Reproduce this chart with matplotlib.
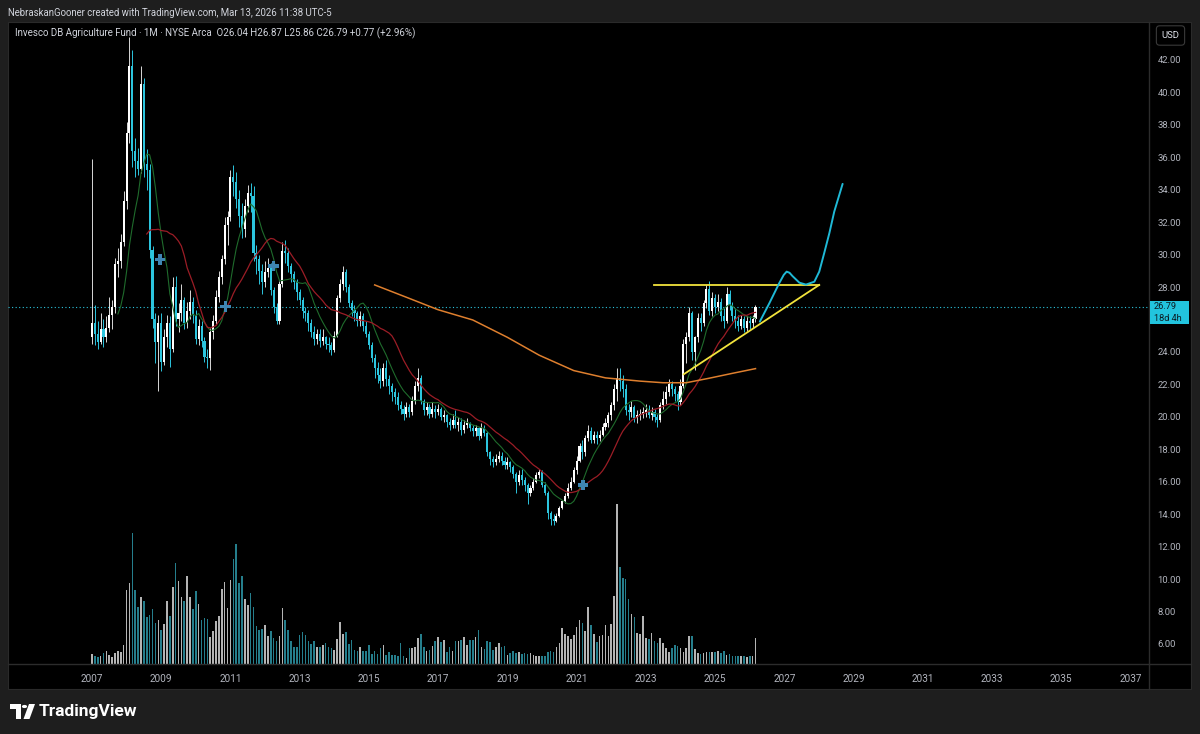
import numpy as np
import matplotlib
matplotlib.use("Agg")
import matplotlib.pyplot as plt
import matplotlib.transforms as mtransforms
from matplotlib.patches import Rectangle, Polygon, Circle
from matplotlib.lines import Line2D

matplotlib.rcParams["font.family"] = ["Roboto", "DejaVu Sans"]

# monthly candles, Jan 2007 .. Mar 2026 (one row per year)
first_open = 24.9
closes = [
    25.8, 25.1, 24.6, 25.4, 24.9, 25.5, 26.3, 26.8, 29.4, 29.6, 30.8, 33.3,   # 2007
    37.5, 41.6, 36.4, 35.8, 35.3, 40.5, 35.6, 35.2, 30.3, 26.0, 24.6, 25.8,   # 2008
    23.4, 24.9, 25.8, 24.2, 28.0, 26.0, 26.4, 27.2, 25.8, 26.5, 27.1, 26.3,   # 2009
    24.8, 25.6, 24.7, 23.7, 23.6, 25.2, 25.9, 27.4, 28.6, 29.7, 31.8, 32.3,   # 2010
    34.8, 34.5, 33.4, 32.4, 31.6, 33.0, 33.8, 33.6, 30.1, 29.7, 29.0, 28.3,   # 2011
    28.9, 29.2, 27.8, 26.8, 25.9, 28.2, 30.2, 30.1, 29.3, 28.8, 28.3, 27.7,   # 2012
    27.2, 26.5, 26.4, 25.8, 25.2, 24.8, 25.1, 24.7, 24.9, 24.5, 24.4, 24.1,   # 2013
    25.0, 27.3, 28.2, 28.9, 28.0, 27.0, 26.6, 26.4, 25.9, 26.2, 25.6, 25.1,   # 2014
    24.4, 23.6, 23.0, 22.6, 22.2, 23.0, 22.3, 21.9, 21.5, 21.2, 20.7, 20.5,   # 2015
    20.2, 20.6, 20.3, 21.0, 21.9, 22.4, 21.0, 20.4, 20.6, 20.2, 20.5, 20.3,   # 2016
    20.5, 20.0, 20.1, 19.7, 19.5, 19.8, 19.5, 19.7, 19.2, 19.5, 19.6, 19.3,   # 2017
    19.1, 19.3, 18.8, 19.3, 19.0, 17.8, 17.4, 17.2, 17.4, 17.6, 17.3, 17.0,   # 2018
    17.2, 16.9, 16.5, 16.0, 16.4, 16.1, 15.8, 15.3, 15.6, 16.0, 16.4, 16.6,   # 2019
    15.8, 15.3, 14.1, 13.7, 13.6, 13.9, 14.4, 14.8, 15.1, 15.6, 16.0, 16.7,   # 2020
    17.3, 18.2, 17.8, 18.7, 19.1, 18.6, 18.9, 18.7, 18.9, 19.4, 19.6, 20.1,   # 2021
    20.7, 21.7, 22.4, 22.2, 21.7, 20.4, 20.3, 20.6, 19.9, 20.1, 20.2, 20.3,   # 2022
    20.4, 20.1, 20.3, 20.0, 19.8, 20.7, 21.1, 21.5, 22.0, 21.7, 21.4, 20.9,   # 2023
    21.9, 24.5, 24.9, 26.4, 24.0, 24.9, 26.1, 25.8, 27.0, 27.9, 26.5, 27.3,   # 2024
    26.8, 27.1, 26.2, 25.9, 27.6, 26.9, 26.2, 25.9, 25.6, 26.0, 25.5, 25.9,   # 2025
    25.8, 26.04, 26.79,                                                       # 2026
]
highs = [
    35.9, 26.9, 25.9, 26.4, 26.0, 26.2, 27.4, 27.2, 29.8, 30.4, 31.3, 33.9,
    38.2, 43.4, 42.6, 37.2, 36.6, 41.6, 40.9, 36.5, 35.6, 30.5, 26.4, 26.3,
    26.4, 25.4, 26.3, 26.2, 28.6, 28.7, 27.0, 28.2, 27.4, 27.1, 27.8, 27.4,
    26.6, 26.0, 25.9, 24.9, 24.2, 25.5, 26.3, 27.8, 29.0, 30.0, 32.3, 32.7,
    35.2, 35.5, 35.1, 34.0, 33.2, 33.4, 34.3, 34.4, 34.2, 30.6, 30.0, 29.4,
    29.6, 29.8, 29.5, 28.0, 27.0, 28.4, 30.8, 30.9, 30.4, 29.5, 29.0, 28.5,
    27.9, 27.4, 26.8, 26.6, 26.0, 25.6, 25.4, 25.4, 25.4, 25.0, 24.9, 24.6,
    25.3, 27.5, 28.5, 29.3, 29.1, 28.2, 27.2, 26.9, 26.5, 26.5, 26.4, 25.9,
    25.3, 24.6, 23.9, 23.4, 23.0, 23.3, 23.5, 22.6, 22.1, 21.8, 21.5, 21.0,
    20.7, 20.9, 20.8, 21.3, 22.2, 23.0, 22.6, 21.1, 20.9, 20.8, 20.9, 20.7,
    20.8, 20.6, 20.4, 20.2, 19.9, 20.2, 20.4, 20.0, 19.9, 19.8, 19.9, 19.7,
    19.5, 19.5, 19.4, 19.6, 19.5, 19.1, 17.9, 17.6, 17.7, 17.9, 17.8, 17.5,
    17.5, 17.3, 17.0, 16.6, 16.7, 16.8, 16.3, 15.9, 15.8, 16.2, 16.6, 16.8,
    16.7, 16.0, 15.4, 14.2, 14.0, 14.1, 14.5, 14.9, 15.3, 15.9, 16.3, 16.9,
    17.6, 18.4, 18.6, 18.9, 19.5, 19.4, 19.1, 19.1, 19.2, 19.6, 19.9, 20.3,
    20.9, 22.0, 23.0, 23.0, 22.6, 22.0, 20.8, 21.0, 20.7, 20.4, 20.5, 20.6,
    20.8, 20.7, 20.6, 20.5, 20.2, 20.9, 21.6, 21.9, 22.3, 22.2, 21.9, 21.6,
    22.3, 24.8, 25.2, 26.8, 26.5, 25.0, 26.4, 26.4, 27.2, 28.1, 28.4, 27.7,
    27.6, 27.6, 27.3, 26.7, 28.0, 27.8, 27.1, 26.7, 26.3, 26.3, 26.2, 26.2,
    26.2, 26.3, 26.87,
]
lows = [
    24.5, 24.4, 24.2, 24.5, 24.3, 24.6, 25.2, 25.4, 26.4, 28.6, 29.2, 30.5,
    32.8, 36.9, 35.4, 34.8, 34.9, 35.0, 34.8, 34.0, 29.8, 25.5, 23.3, 21.6,
    22.8, 23.2, 24.3, 23.1, 24.0, 25.6, 25.2, 25.9, 25.4, 25.5, 26.0, 25.8,
    24.5, 24.4, 24.3, 23.4, 23.0, 22.9, 24.8, 25.7, 27.1, 28.2, 29.4, 30.6,
    32.1, 33.6, 32.9, 31.7, 31.0, 31.1, 32.6, 32.6, 29.6, 28.8, 28.2, 27.6,
    28.0, 28.6, 27.5, 26.4, 25.7, 25.7, 28.0, 29.5, 28.9, 28.3, 27.9, 27.2,
    26.9, 26.1, 25.9, 25.3, 24.9, 24.4, 24.5, 24.3, 24.4, 24.2, 24.0, 23.8,
    24.0, 24.9, 27.1, 27.8, 27.7, 26.8, 26.2, 25.9, 25.6, 25.6, 25.3, 24.9,
    24.2, 23.4, 22.4, 22.1, 21.8, 21.9, 21.9, 21.4, 21.0, 20.8, 20.4, 20.2,
    19.8, 20.0, 20.0, 20.1, 20.8, 21.6, 20.8, 20.1, 20.1, 19.9, 20.0, 19.9,
    20.1, 19.8, 19.7, 19.4, 19.2, 19.3, 19.3, 19.1, 18.9, 19.0, 19.3, 19.1,
    18.8, 18.8, 18.6, 18.7, 18.8, 17.6, 17.0, 16.9, 17.0, 17.2, 17.0, 16.8,
    16.8, 16.6, 16.2, 15.3, 15.8, 15.8, 15.4, 14.6, 15.1, 15.5, 15.9, 16.2,
    15.7, 15.2, 13.7, 13.3, 13.3, 13.5, 13.8, 14.3, 14.7, 15.0, 15.5, 15.9,
    16.5, 17.2, 17.4, 17.6, 18.5, 18.4, 18.4, 18.3, 18.5, 18.8, 19.2, 19.4,
    19.8, 20.4, 21.0, 21.6, 21.2, 20.1, 19.8, 20.0, 19.7, 19.6, 19.8, 19.9,
    20.0, 19.9, 19.8, 19.7, 19.4, 19.7, 20.5, 20.8, 21.3, 21.3, 21.0, 20.4,
    20.7, 21.8, 23.3, 24.7, 23.5, 22.9, 24.6, 25.3, 25.6, 26.7, 26.3, 26.2,
    26.4, 26.5, 25.9, 25.5, 25.8, 26.6, 25.9, 25.5, 25.3, 25.4, 25.2, 25.3,
    25.4, 25.5, 25.86,
]
volumes = [
    10, 8, 7, 8, 11, 13, 9, 7, 11, 13, 12, 19,
    74, 81, 131, 74, 57, 67, 63, 47, 49, 55, 41, 44,
    34, 40, 63, 48, 77, 101, 83, 67, 63, 88, 67, 55,
    73, 60, 44, 46, 45, 27, 33, 43, 48, 75, 82, 56,
    84, 105, 120, 81, 88, 65, 59, 71, 57, 38, 34, 35,
    39, 28, 33, 26, 23, 28, 56, 44, 34, 23, 17, 17,
    29, 32, 29, 23, 20, 23, 17, 17, 19, 21, 17, 16,
    14, 25, 42, 30, 32, 20, 24, 14, 13, 17, 13, 13,
    19, 10, 13, 10, 16, 19, 9, 12, 9, 9, 8, 21,
    8, 6, 16, 16, 17, 26, 30, 17, 13, 14, 18, 23,
    27, 22, 24, 12, 17, 13, 23, 23, 24, 27, 19, 24,
    24, 27, 34, 17, 15, 23, 22, 14, 17, 21, 17, 18,
    9, 11, 13, 11, 12, 10, 11, 10, 11, 9, 8, 8,
    8, 8, 12, 13, 12, 17, 21, 36, 30, 28, 25, 29,
    37, 44, 41, 33, 57, 39, 30, 22, 28, 29, 39, 28,
    40, 68, 160, 97, 86, 85, 65, 50, 47, 31, 30, 48,
    26, 25, 31, 23, 21, 26, 21, 16, 12, 16, 19, 18,
    16, 12, 16, 28, 28, 15, 11, 10, 11, 12, 12, 12,
    12, 13, 11, 13, 9, 10, 8, 8, 8, 8, 8, 7,
    8, 8, 26,
]

# long moving average as it reads off the chart (month index, price)
long_ma_months = [98, 110, 120, 132, 144, 155, 167, 178, 190, 198, 206, 214, 222, 230]
long_ma_prices = [28.13, 27.3, 26.6, 25.97, 24.9, 23.8, 22.85, 22.4, 22.2, 22.1, 22.1, 22.38, 22.68, 22.97]

# signal markers (month index from Jan 2007, price)
signal_months = [23.6, 46.3, 62.9, 170.2]
signal_prices = [29.7, 26.8, 29.3, 15.8]

# drawings: resistance, rising trendline, projected path
resistance_months = [194.9, 252.1]
resistance_prices = [28.13, 28.13]
trend_months = [205.1, 252.1]
trend_prices = [22.62, 28.13]
path_months = [231.5, 234.8, 238.2, 239.8, 240.8, 241.8, 242.8, 245.2, 247.5, 250.4, 252.1, 253.8, 255.6, 257.3, 260.2]
path_prices = [25.87, 27.0, 28.23, 28.75, 28.95, 28.88, 28.68, 28.27, 28.15, 28.33, 28.95, 30.08, 31.32, 32.65, 34.36]

years = list(range(2007, 2038, 2))
# 26.00 sits under the last-price label, so the axis leaves it out
price_ticks = [6, 8, 10, 12, 14, 16, 18, 20, 22, 24, 28, 30, 32, 34, 36, 38, 40, 42]

header = "NebraskanGooner created with TradingView.com, Mar 13, 2026 11:38 UTC-5"
legend_text = "Invesco DB Agriculture Fund \u00b7 1M \u00b7 NYSE Arca  O26.04 H26.87 L25.86 C26.79 +0.77 (+2.96%)"

UP = "#ffffff"
DOWN = "#2cc5de"


def sma(values, n):
    out = np.full(len(values), np.nan)
    c = np.cumsum(np.insert(np.asarray(values, float), 0, 0.0))
    out[n - 1:] = (c[n:] - c[:-n]) / n
    return out


closes = np.array(closes)
opens = np.concatenate([[first_open], closes[:-1]])
highs = np.maximum(np.array(highs), np.maximum(opens, closes))
lows = np.minimum(np.array(lows), np.minimum(opens, closes))
months = np.arange(len(closes))
up = closes >= opens

W, H = 1200, 734
fig = plt.figure(figsize=(12, 7.34), dpi=100)
fig.patch.set_facecolor("#1e1e1e")


def fx(px):
    return px / W


def fy(py):
    return 1 - py / H


# black chart panel
fig.patches.append(Rectangle((fx(8), fy(689)), fx(1191) - fx(8), fy(22) - fy(689),
                             transform=fig.transFigure, facecolor="black",
                             edgecolor="#2a2a2a", lw=0.8, zorder=0))

ax = fig.add_axes([fx(8), fy(664), fx(1149) - fx(8), fy(22) - fy(664)])
axv = ax.twinx()
ax.set_zorder(2)
axv.set_zorder(1)
ax.patch.set_visible(False)

xmin, xmax = -29.1, 366.4
ymin, ymax = 4.76, 44.34
ax.set_xlim(xmin, xmax)
ax.set_ylim(ymin, ymax)

# volume overlay at the bottom
vol_colors = np.where(up, "#c9c9c9", "#2a8d9c")
axv.bar(months, volumes, width=0.55, color=vol_colors, alpha=0.9)
axv.set_ylim(0, max(volumes) * 642 / 160)
axv.set_axis_off()

# candles
wick_colors = np.where(up, "#d8d8d8", DOWN)
ax.vlines(months, lows, highs, colors=wick_colors, lw=0.7, zorder=3)
body_h = np.maximum(np.abs(closes - opens), 0.06)
ax.bar(months, body_h, bottom=np.minimum(opens, closes), width=0.72,
       color=np.where(up, UP, DOWN), lw=0, zorder=4)

# moving averages
ax.plot(months, sma(closes, 10), color="#1f6b2c", lw=0.8, zorder=5)
ax.plot(months, sma(closes, 20), color="#9b1d26", lw=0.9, zorder=5)
ax.plot(long_ma_months, long_ma_prices, color="#de7f2e", lw=1.1, zorder=5)

ax.scatter(signal_months, signal_prices, marker="P", s=55, color="#3f86b3",
           edgecolors="none", zorder=6)

# drawings
ax.plot(resistance_months, resistance_prices, color="#f2e33c", lw=1.3, zorder=7)
ax.plot(trend_months, trend_prices, color="#f2e33c", lw=1.3, zorder=7)
ax.plot(path_months, path_prices, color="#1fb9d6", lw=1.4, zorder=7,
        solid_joinstyle="round", solid_capstyle="round")

last_close = closes[-1]
ax.axhline(last_close, color=DOWN, ls=(0, (1, 2.2)), lw=0.8, zorder=1)

# axes styling
for s in ax.spines.values():
    s.set_visible(False)
ax.yaxis.tick_right()
ax.set_yticks(price_ticks)
ax.set_yticklabels([f"{v:.2f}" for v in price_ticks])
ax.tick_params(axis="y", length=0, pad=6, labelsize=6.8, labelcolor="#b2b5be")
ax.set_xticks([12 * (y - 2007) for y in years])
ax.set_xticklabels([str(y) for y in years])
ax.tick_params(axis="x", length=0, pad=7.5, labelsize=7.2, labelcolor="#b2b5be")

# panel dividers
fig.lines.append(Line2D([fx(1149), fx(1149)], [fy(22), fy(689)], transform=fig.transFigure,
                        color="#2c2c2c", lw=1.0))
fig.lines.append(Line2D([fx(8), fx(1191)], [fy(664), fy(664)], transform=fig.transFigure,
                        color="#2c2c2c", lw=1.0))

# last price label
ppu = 642 / (ymax - ymin)
blend = mtransforms.blended_transform_factory(fig.transFigure, ax.transData)
fig.patches.append(Rectangle((fx(1149.5), last_close - 17.5 / ppu), fx(1189) - fx(1149.5), 23.5 / ppu,
                             transform=blend, facecolor="#22c4de", edgecolor="none", zorder=5))
fig.text(fx(1154), last_close + 0.5 / ppu, f"{last_close:.2f}", transform=blend,
         ha="left", va="center", fontsize=6.6, color="#0b1a22", zorder=6)
fig.text(fx(1154), last_close - 11.5 / ppu, "18d 4h", transform=blend,
         ha="left", va="center", fontsize=6.6, color="#0b1a22", zorder=6)

# currency box
fig.text(fx(1170.5), fy(35.5), "USD", ha="center", va="center", fontsize=6.8, color="#e0e3eb",
         bbox=dict(boxstyle="round,pad=0.55,rounding_size=0.35", fc="black", ec="#3a3a3a", lw=0.8))

# texts
fig.text(fx(8), fy(12.5), header, ha="left", va="center", fontsize=6.9, color="#d1d4dc")
fig.text(fx(15), fy(33.5), legend_text, ha="left", va="center", fontsize=7.0, color="#d1d4dc")

# TradingView logo
fig.patches.append(Rectangle((fx(10), fy(709)), fx(21) - fx(10), fy(704) - fy(709),
                             transform=fig.transFigure, facecolor="white", edgecolor="none"))
fig.patches.append(Rectangle((fx(15.5), fy(719)), fx(21) - fx(15.5), fy(704) - fy(719),
                             transform=fig.transFigure, facecolor="white", edgecolor="none"))
fig.patches.append(Circle((fx(24.5), fy(706.5)), 2.6 / W, transform=fig.transFigure,
                          facecolor="white", edgecolor="none"))
fig.patches.append(Polygon([(fx(29), fy(704)), (fx(35), fy(704)), (fx(29.5), fy(719)), (fx(23.5), fy(719))],
                           closed=True, transform=fig.transFigure, facecolor="white", edgecolor="none"))
fig.text(fx(38.5), fy(711.5), "TradingView", ha="left", va="center", fontsize=12.5,
         fontweight="bold", color="white")

fig.savefig("out.png", dpi=100, facecolor=fig.get_facecolor())
